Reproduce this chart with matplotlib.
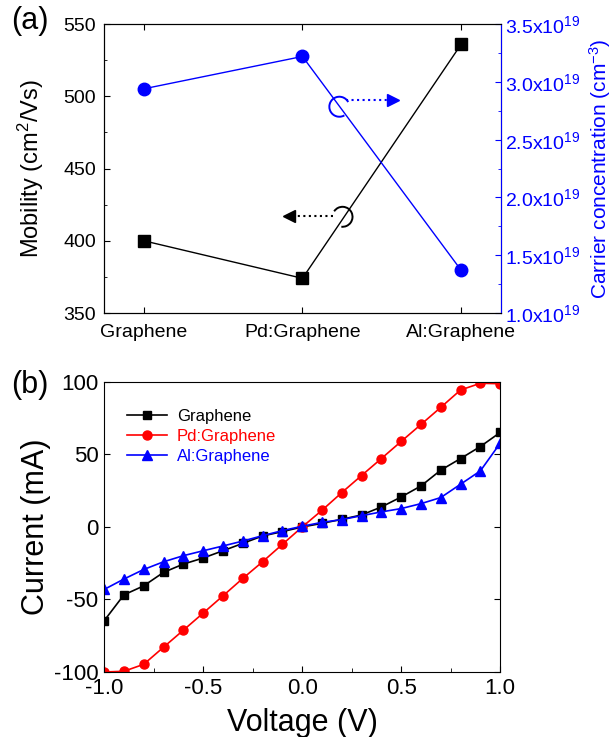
import numpy as np
import matplotlib
matplotlib.use("Agg")
import matplotlib.pyplot as plt
from matplotlib.patches import Arc
from matplotlib.ticker import MultipleLocator, FuncFormatter

plt.rcParams['font.family'] = ['Liberation Sans', 'DejaVu Sans']
plt.rcParams['mathtext.fontset'] = 'custom'
plt.rcParams['mathtext.rm'] = 'Liberation Sans'
plt.rcParams['mathtext.default'] = 'regular'
plt.rcParams['axes.unicode_minus'] = False

# panel (a)
samples = ['Graphene', 'Pd:Graphene', 'Al:Graphene']
mobility = [400, 374, 536]
carrier = [2.94e19, 3.22e19, 1.37e19]

# panel (b)
voltage = [-1.0, -0.9, -0.8, -0.7, -0.6, -0.5, -0.4, -0.3, -0.2, -0.1, 0.0,
           0.1, 0.2, 0.3, 0.4, 0.5, 0.6, 0.7, 0.8, 0.9, 1.0]
i_graphene = [-64.7, -46.8, -40.6, -31.3, -25.6, -21.4, -16.4, -11.3, -6.2, -3.2, 0.0,
              2.5, 5.3, 8.3, 13.8, 20.7, 28.3, 39.2, 47.2, 55.5, 65.2]
i_pd = [-100.0, -99.5, -94.7, -82.9, -71.2, -59.4, -47.5, -35.5, -24.0, -12.0, 0.0,
        11.5, 23.7, 35.5, 47.2, 59.0, 70.7, 82.5, 94.5, 99.1, 98.8]
i_al = [-43.1, -35.9, -29.3, -24.0, -19.8, -16.4, -13.1, -9.7, -6.0, -2.5, 0.5,
        3.2, 5.1, 7.8, 10.4, 12.7, 16.1, 20.3, 29.5, 38.7, 57.8]

fig = plt.figure(figsize=(6.16, 7.37), dpi=100)

# ---- (a) mobility / carrier concentration
ax1 = fig.add_axes([0.169, 0.5753, 0.644, 0.392])
xpos = np.arange(len(samples))
ax1.plot(xpos, mobility, 'k-s', lw=1, ms=9)
ax1.set_xlim(-0.25, 2.25)
ax1.set_ylim(350, 550)
ax1.set_xticks(xpos)
ax1.set_xticklabels(samples)
ax1.yaxis.set_major_locator(MultipleLocator(50))
ax1.yaxis.set_minor_locator(MultipleLocator(25))
ax1.tick_params(which='both', direction='in', top=True, labelsize=14)
ax1.tick_params(axis='y', pad=6)
ax1.tick_params(axis='x', pad=8)
ax1.tick_params(which='major', length=4)
ax1.tick_params(which='minor', length=2.5, top=False)
ax1.set_ylabel('Mobility (cm$^2$/Vs)', fontsize=17, labelpad=12)

ax2 = ax1.twinx()
ax2.plot(xpos, np.array(carrier) / 1e19, '-o', color='blue', lw=1, ms=9)
ax2.set_ylim(1.0, 3.5)
ax2.yaxis.set_major_locator(MultipleLocator(0.5))
ax2.yaxis.set_minor_locator(MultipleLocator(0.25))
ax2.yaxis.set_major_formatter(FuncFormatter(lambda v, p: '%.1fx10$^{19}$' % v))
ax2.tick_params(which='both', direction='in', colors='blue', labelsize=14, pad=3)
ax2.tick_params(which='major', length=4)
ax2.tick_params(which='minor', length=2.5)
ax2.spines['right'].set_color('blue')
ax2.set_ylabel('Carrier concentration (cm$^{-3}$)', fontsize=15, color='blue', labelpad=5)

# arcs and dotted arrows pointing at the matching axis
ax1.add_patch(Arc((0.593, 0.714), 20 / 397, 20 / 289, theta1=36, theta2=293,
                  transform=ax1.transAxes, color='blue', lw=1.4))
ax1.plot([0.61, 0.725], [0.737, 0.737], ':', color='blue', lw=1.5, transform=ax1.transAxes)
ax1.plot([0.727], [0.737], '>', color='blue', ms=8, transform=ax1.transAxes)
ax1.add_patch(Arc((0.601, 0.333), 20 / 397, 20 / 289, theta1=-95, theta2=138,
                  transform=ax1.transAxes, color='black', lw=1.4))
ax1.plot([0.578, 0.468], [0.336, 0.336], ':', color='black', lw=1.5, transform=ax1.transAxes)
ax1.plot([0.466], [0.336], '<', color='black', ms=8, transform=ax1.transAxes)

fig.text(0.018, 0.972, '(a)', fontsize=22, va='center')

# ---- (b) I-V curves
ax3 = fig.add_axes([0.169, 0.0882, 0.643, 0.3935])
ax3.plot(voltage, i_graphene, 'k-s', lw=1.2, ms=6, label='Graphene')
ax3.plot(voltage, i_pd, '-o', color='red', lw=1.2, ms=6.5, label='Pd:Graphene')
ax3.plot(voltage, i_al, '-^', color='blue', lw=1.2, ms=6.5, label='Al:Graphene')
ax3.set_xlim(-1.0, 1.0)
ax3.set_ylim(-100, 100)
ax3.xaxis.set_major_locator(MultipleLocator(0.5))
ax3.xaxis.set_minor_locator(MultipleLocator(0.25))
ax3.yaxis.set_major_locator(MultipleLocator(50))
ax3.xaxis.set_major_formatter(FuncFormatter(lambda v, p: '%.1f' % v))
ax3.tick_params(which='both', direction='in', right=True, labelsize=16, pad=4)
ax3.tick_params(which='major', length=4)
ax3.tick_params(which='minor', length=3)
ax3.set_xlabel('Voltage (V)', fontsize=22, labelpad=7)
ax3.set_ylabel('Current (mA)', fontsize=22, labelpad=2)
leg = ax3.legend(loc='upper left', frameon=False, fontsize=12, handlelength=2.4,
                 handletextpad=0.6, bbox_to_anchor=(0.02, 0.96), labelspacing=0.3)
for txt, c in zip(leg.get_texts(), ['black', 'red', 'blue']):
    txt.set_color(c)

fig.text(0.018, 0.478, '(b)', fontsize=22, va='center')

fig.savefig('out.png', dpi=100)
